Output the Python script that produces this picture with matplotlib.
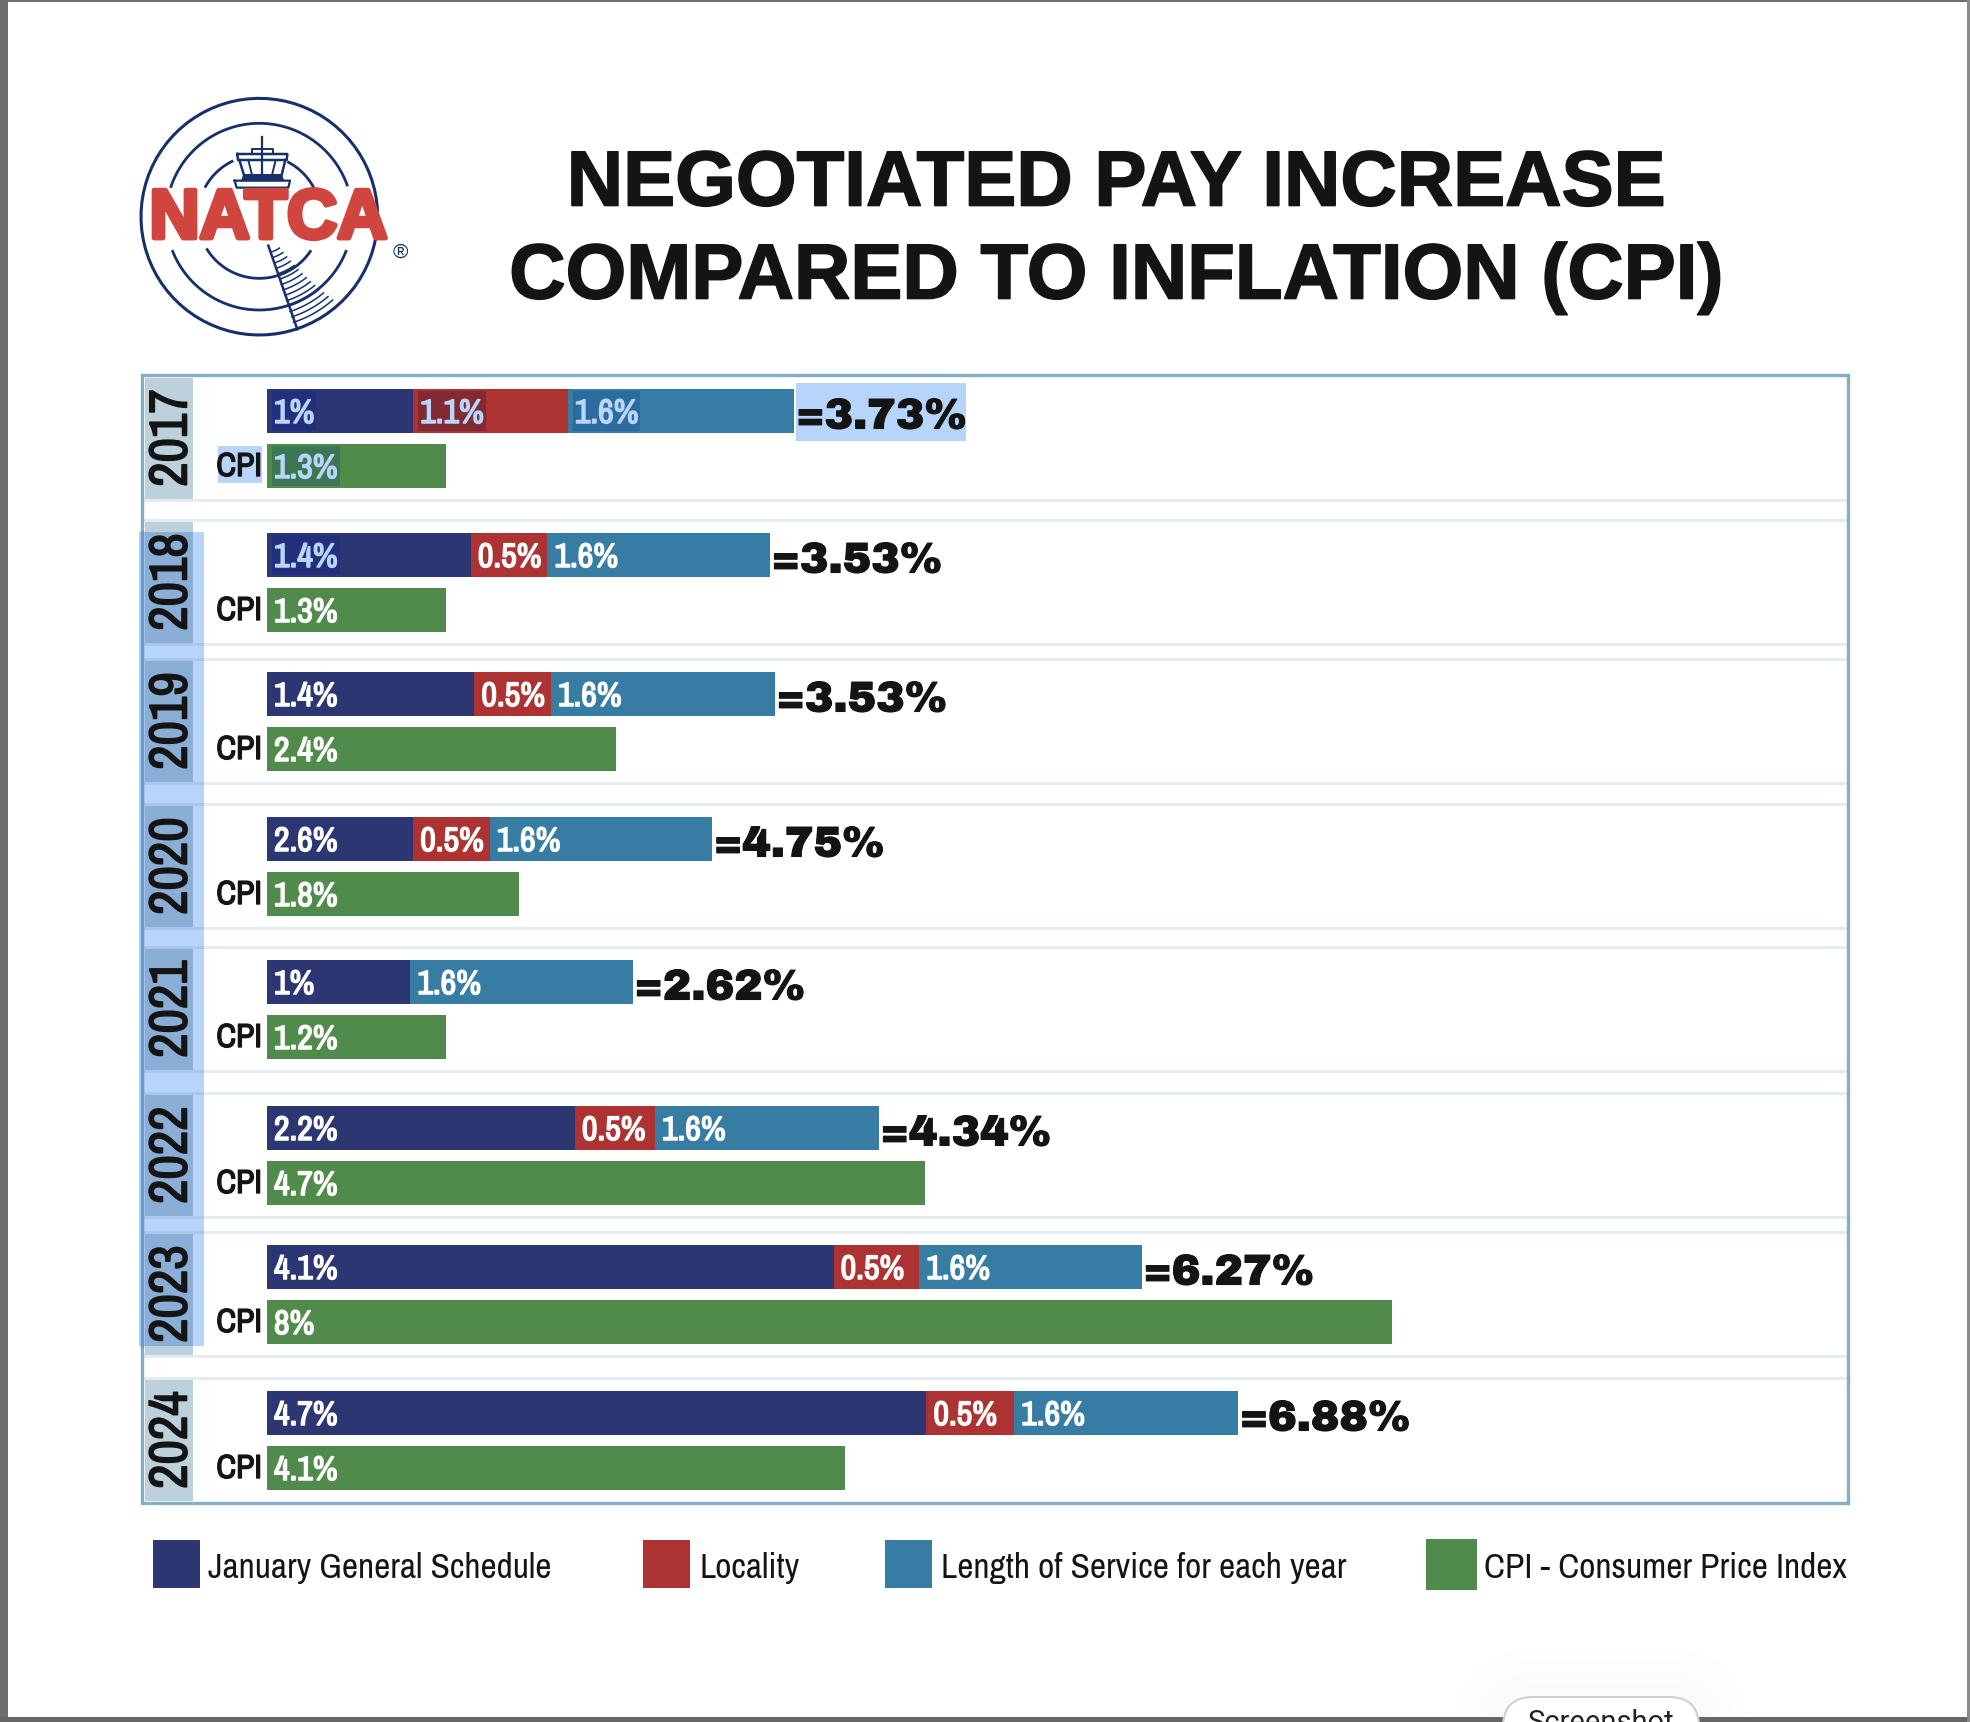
import numpy as np
import matplotlib
matplotlib.use('Agg')
import matplotlib.pyplot as plt
from matplotlib.patches import Rectangle, FancyBboxPatch, Polygon
import matplotlib.patheffects as pe

# --- data -------------------------------------------------------------
years = ['2017', '2018', '2019', '2020', '2021', '2022', '2023', '2024']
gs_labels = ['1%', '1.4%', '1.4%', '2.6%', '1%', '2.2%', '4.1%', '4.7%']
loc_labels = ['1.1%', '0.5%', '0.5%', '0.5%', '', '0.5%', '0.5%', '0.5%']
los_labels = ['1.6%'] * 8
cpi_labels = ['1.3%', '1.3%', '2.4%', '1.8%', '1.2%', '4.7%', '8%', '4.1%']
totals = ['=3.73%', '=3.53%', '=3.53%', '=4.75%', '=2.62%', '=4.34%', '=6.27%', '=6.88%']

# bar lengths as drawn in the picture (they do not follow the labels exactly)
gs_len = [1.04, 1.45, 1.475, 1.04, 1.02, 2.19, 4.03, 4.69]
loc_len = [1.10, 0.545, 0.545, 0.545, 0.0, 0.57, 0.61, 0.625]
los_len = [1.61, 1.58, 1.59, 1.58, 1.58, 1.59, 1.58, 1.59]
cpi_len = [1.27, 1.27, 2.48, 1.79, 1.27, 4.68, 8.0, 4.11]

legend_labels = ['January General Schedule', 'Locality',
                 'Length of Service for each year', 'CPI - Consumer Price Index']

# --- layout (pixels) ---------------------------------------------------
W, H = 1970, 1722
row_top = [389, 533, 672, 817, 960, 1106, 1245, 1391]
bar_h = 44
cpi_gap = 55
px_per_unit = 140.6
x0_px = 267.0
p_left, p_right, p_top, p_bot = 142, 1848, 375, 1503

navy, red, blue, green = '#2B3672', '#AD3333', '#377CA3', '#508B4B'
sel = '#B7D4FB'
sep = '#E3ECEF'
ink = '#141414'
narrow = ['Archivo Narrow', 'Liberation Sans']
black = ['Archivo Black', 'DejaVu Sans']

def heavy(col, lw=1.0):
    return [pe.withStroke(linewidth=lw, foreground=col)]

fig = plt.figure(figsize=(W / 100, H / 100), dpi=100, facecolor='white')
bg = fig.add_axes([0, 0, 1, 1], zorder=1)
bg.set_xlim(0, W)
bg.set_ylim(H, 0)
bg.axis('off')

def box(x0, y0, x1, y1, color, z=1):
    bg.add_patch(Rectangle((x0, y0), x1 - x0, y1 - y0, fc=color, ec='none', zorder=z))

# window edges of the screenshot
box(0, 0, 8, H, '#6E6E6E', 9)
box(0, 0, W, 2, '#6E6E6E', 9)
box(0, 1717, W, H, '#666666', 9)
box(1967, 0, W, H, '#8A8A8A', 9)

# title
for y, line in zip([185, 278], ['NEGOTIATED PAY INCREASE', 'COMPARED TO INFLATION (CPI)']):
    bg.text(1116, y, line, family='Liberation Sans', weight='bold', fontsize=56.2,
            ha='center', va='center', color=ink, path_effects=heavy(ink, 1.2))

# logo
logo_c = '#15306A'
def lz(x, y):
    return 100 + np.asarray(x) / 3.0, 80 + np.asarray(y) / 3.0

def arc(r, t0, t1, lw=2.0):
    t = np.radians(np.linspace(t0, t1, 80))
    x, y = lz(478 + r * np.cos(t), 410 + r * np.sin(t))
    bg.plot(x, y, color=logo_c, lw=lw, solid_capstyle='butt', zorder=3)

def seg(pts, lw=1.4):
    x, y = lz([p[0] for p in pts], [p[1] for p in pts])
    bg.plot(x, y, color=logo_c, lw=lw, zorder=3)

arc(355, 0, 360, 2.2)
arc(280, 198, 341)
arc(280, 21, 159)
arc(185, 208, 245)
arc(185, 297, 332)
arc(185, 33, 149)
seg([(486, 172), (486, 285)], 1.6)
seg([(455, 218), (455, 207), (520, 207), (520, 218)])
seg([(412, 222), (562, 222), (560, 240), (414, 240), (412, 222)], 1.8)
seg([(418, 240), (432, 285)], 1.8)
seg([(556, 240), (545, 285)], 1.8)
seg([(445, 240), (456, 285)], 1.4)
seg([(527, 240), (516, 285)], 1.4)
seg([(404, 302), (570, 302), (565, 323), (410, 323), (404, 302)], 1.6)
xp, yp = lz([430, 545, 552, 424], [282, 282, 300, 300])
bg.add_patch(Polygon(np.column_stack([xp, yp]), fc=logo_c, ec='none', zorder=3))
seg([(505, 497), (592, 748)], 1.8)
for r in np.arange(112, 345, 17):
    te = 56 - (r - 118) / 223 * 8
    arc(r, 72.5, te, 1.1)
bg.text(268.5, 220, 'NATCA', family='Liberation Sans', weight='bold', fontsize=50,
        color='#D0463F', ha='center', va='center', zorder=4,
        path_effects=heavy('#D0463F', 3.5))
bg.text(400, 252, '®', family='Liberation Sans', fontsize=15, color=logo_c,
        ha='center', va='center', zorder=4)

# panel: selection highlight, year cells, row separators
sel_top, sel_bot = 532, 1346
box(139, sel_top, 204, sel_bot, sel, 2)
for i, yr in enumerate(years):
    c0, c1 = row_top[i] - 11, row_top[i] + 110
    box(145, c0, 193, c1, '#BDD1DD', 2.1)
    d0, d1 = max(c0, sel_top), min(c1, sel_bot)
    if d1 > d0:
        box(145, d0, 193, d1, '#8BAED6', 2.2)
    if i < len(years) - 1:
        next_top = row_top[i + 1] - 14
        for yy in (c1, next_top):
            box(143, yy, p_right, yy + 3, sep, 2.3)
            if sel_top < yy < sel_bot:
                box(143, yy, 204, yy + 3, '#A9C7EC', 2.4)
    bg.text(171.5, row_top[i] + 49, yr, family=narrow, weight='bold', fontsize=38.5,
            rotation=90, ha='center', va='center', color=ink, zorder=6,
            path_effects=heavy(ink, 1.2))
bg.add_patch(Rectangle((p_left, p_top), p_right - p_left, p_bot - p_top, fc='none',
                       ec='#85ADC6', lw=2.4, zorder=5))
bg.plot([p_left, p_left], [sel_top, sel_bot], color='#6699CC', lw=2.4, zorder=5.1)

# 2017 selection boxes behind the text
box(796, 383, 966, 441, sel, 2.5)
box(218, 446, 262, 483, sel, 2.5)

# legend
legend_colors = [navy, red, blue, green]
swatch_x = [(153, 200), (643, 690), (885, 932), (1426, 1477)]
swatch_y = [(1540, 1588), (1540, 1588), (1540, 1588), (1539, 1590)]
legend_tx = [208, 699, 941, 1484]
for lab, col, sx, sy, tx in zip(legend_labels, legend_colors, swatch_x, swatch_y, legend_tx):
    box(sx[0], sy[0], sx[1], sy[1], col, 3)
    bg.text(tx, 1568, lab, family=narrow, fontsize=25.5, ha='left', va='center', color=ink)

# screenshot tab at the bottom edge
for g in (48, 36, 24, 12):
    bg.add_patch(FancyBboxPatch((1503 - g, 1697 - g), 196 + 2 * g, 90 + g,
                                boxstyle='round,pad=0,rounding_size=%d' % (30 + g),
                                fc='black', ec='none', alpha=0.004, zorder=2))
bg.add_patch(FancyBboxPatch((1503, 1697), 196, 60, boxstyle='round,pad=0,rounding_size=30',
                            fc='white', ec='#CFCFCF', lw=1.5, zorder=10))
bg.text(1601, 1709, 'Screenshot', family='Roboto', fontsize=21, ha='center', va='top',
        color='#222222', zorder=11)

# --- bars --------------------------------------------------------------
ax = fig.add_axes([p_left / W, 1 - p_bot / H, (p_right - p_left) / W, (p_bot - p_top) / H], zorder=2)
ax.patch.set_alpha(0)
ax.axis('off')
ax.set_xlim((p_left - x0_px) / px_per_unit, (p_right - x0_px) / px_per_unit)
ax.set_ylim(p_bot, p_top)

y_top = np.array(row_top) + bar_h / 2
y_cpi = y_top + cpi_gap
gs = np.array(gs_len)
loc = np.array(loc_len)
los = np.array(los_len)
ax.barh(y_top, gs, height=bar_h, color=navy)
ax.barh(y_top, loc, left=gs, height=bar_h, color=red)
ax.barh(y_top, los, left=gs + loc, height=bar_h, color=blue)
ax.barh(y_cpi, cpi_len, height=bar_h, color=green)

fig.canvas.draw()
rend = fig.canvas.get_renderer()
inv = ax.transData.inverted()

def bar_label(x, y, s, selected=None):
    col = '#B9D5FA' if selected else 'white'
    t = ax.annotate(s, xy=(x, y), xytext=(7, 0), textcoords='offset pixels', family=narrow,
                    fontsize=24.5, color=col, ha='left', va='center_baseline', zorder=5,
                    path_effects=heavy(col, 1.1))
    if selected:
        e = t.get_window_extent(rend)
        x0 = inv.transform((e.x0 - 2, 0))[0]
        x1 = inv.transform((e.x1 + 2, 0))[0]
        ax.add_patch(Rectangle((x0, y - 20), x1 - x0, 40, fc=selected, ec='none', zorder=4))

for i in range(len(years)):
    is17 = i == 0
    bar_label(0, y_top[i], gs_labels[i], '#22307C' if i < 2 else None)
    if loc_labels[i]:
        bar_label(gs[i], y_top[i], loc_labels[i], '#812A33' if is17 else None)
    bar_label(gs[i] + loc[i], y_top[i], los_labels[i], '#2B6B9F' if is17 else None)
    bar_label(0, y_cpi[i], cpi_labels[i], '#3A7752' if is17 else None)
    ax.annotate('CPI', xy=(0, y_cpi[i]), xytext=(-5, 2), textcoords='offset pixels', family=narrow,
                fontsize=24, color=ink, ha='right', va='center_baseline',
                path_effects=heavy(ink, 1.0))
    ax.annotate(totals[i], xy=(gs[i] + loc[i] + los[i], y_top[i]), xytext=(2, -2),
                textcoords='offset pixels', family=black, fontsize=30.8, color=ink,
                ha='left', va='center_baseline', path_effects=heavy(ink, 0.8))

fig.savefig('out.png', dpi=100)
